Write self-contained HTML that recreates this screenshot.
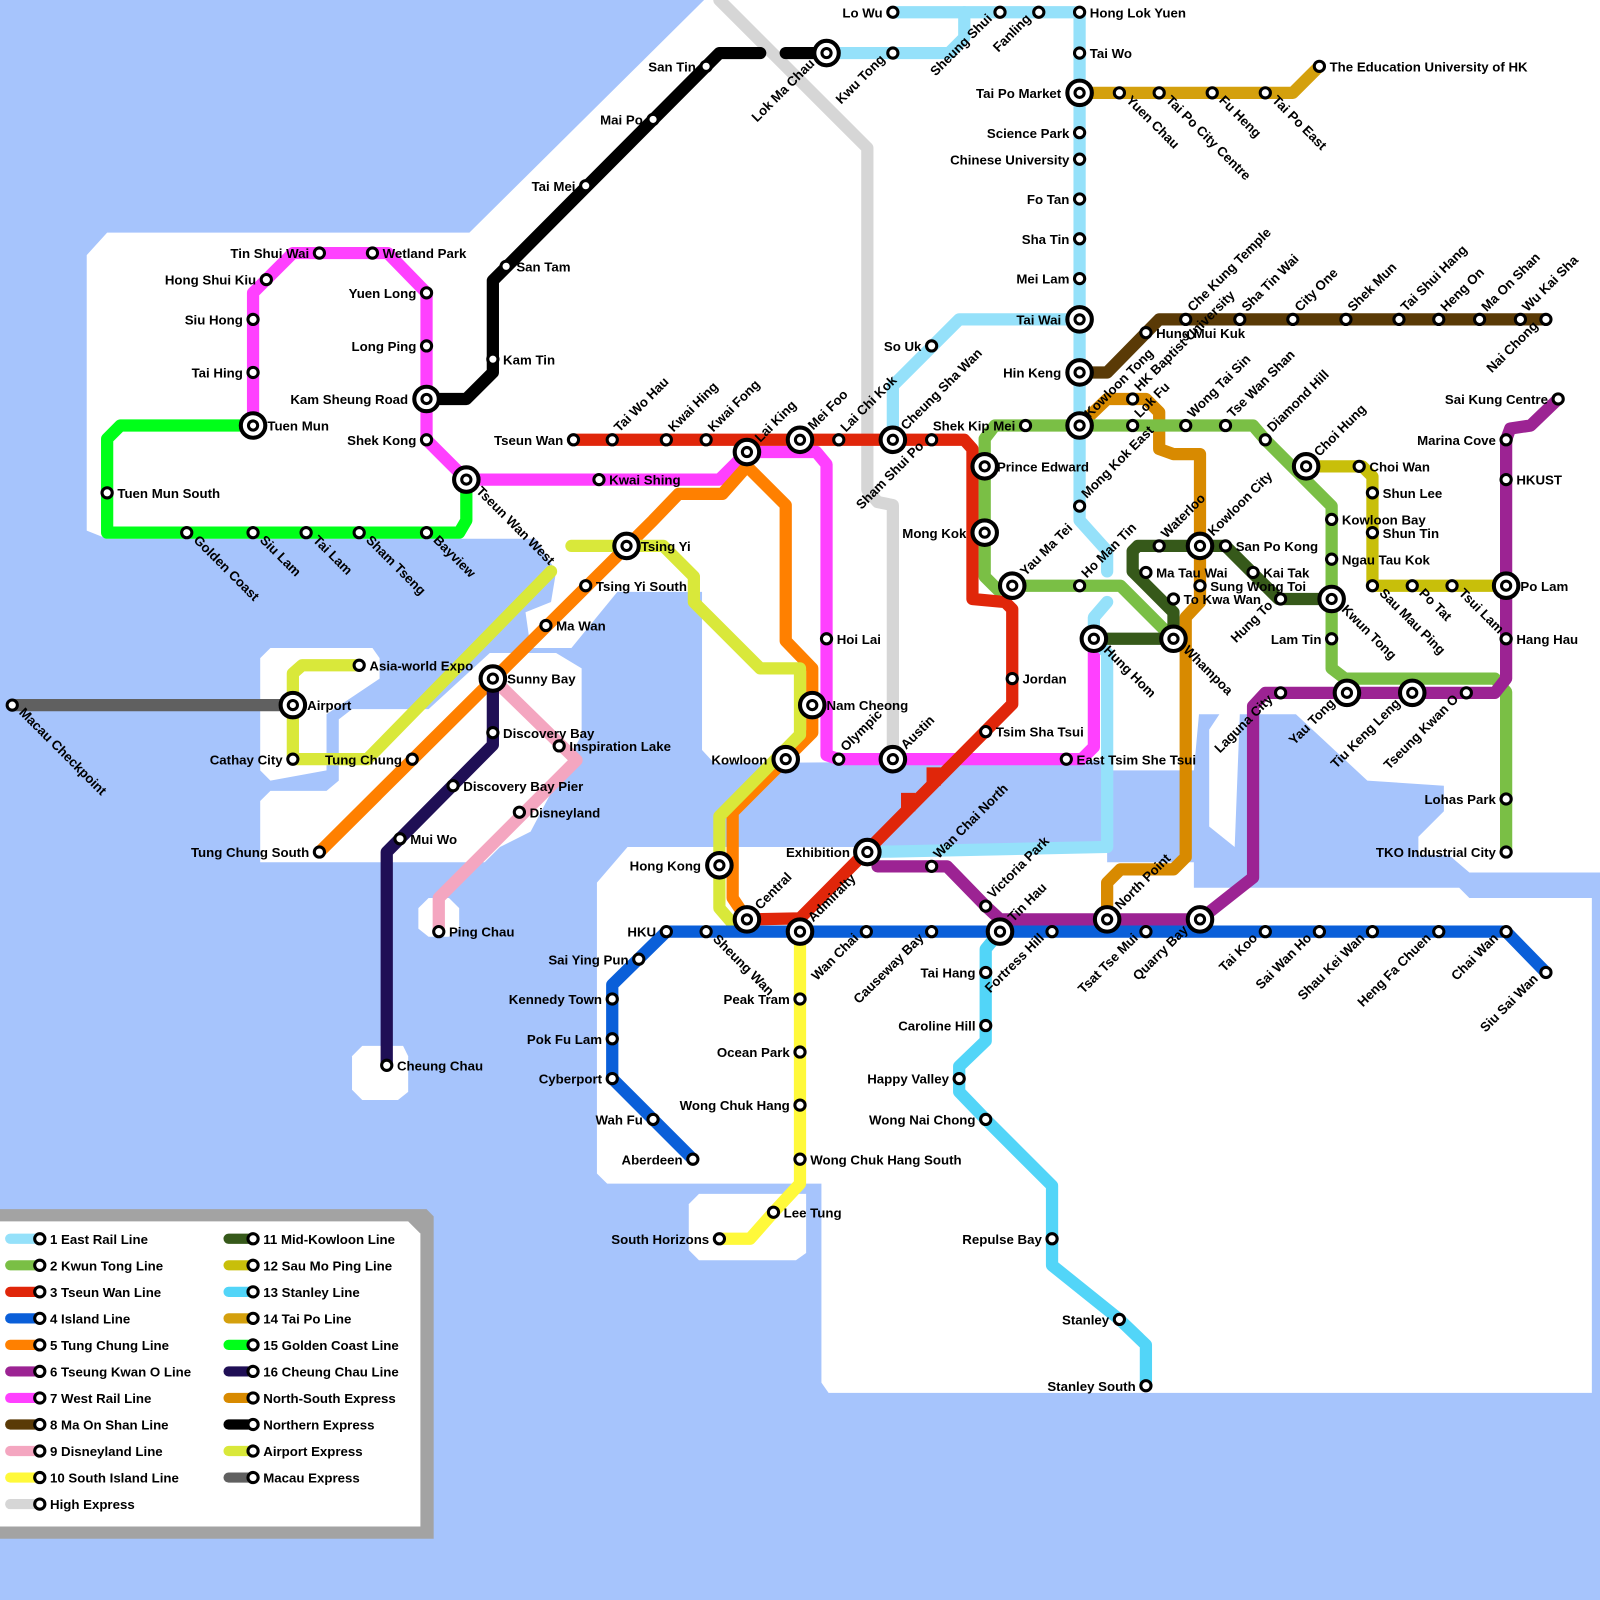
<!DOCTYPE html>
<html><head><meta charset="utf-8"><style>
html,body{margin:0;padding:0;background:#a6c4fc}
svg{display:block}
text{font-family:"Liberation Sans",Arial,sans-serif;font-weight:bold;font-size:13px;fill:#000}
.e{text-anchor:end}
.ln{fill:none;stroke-width:12;stroke-linejoin:round;stroke-linecap:round}
.s{fill:#fff;stroke:#000;stroke-width:3}
</style></head><body>
<svg width="1600" height="1600" viewBox="0 0 1568 1568" xmlns="http://www.w3.org/2000/svg">
<rect width="1600" height="1600" fill="#a6c4fc"/>
<g fill="#fff">
<polygon points="85,250 105,228 460,228 690,0 1600,0 1600,855 1440,855 1420,838 1390,838 1390,820 1415,795 1415,770 1340,765 1270,700 1215,700 1210,830 1185,810 1185,715 1195,700 1175,700 1170,755 1090,755 1090,745 700,748 688,735 688,580 640,580 545,575 545,528 105,528 85,520"/>
<polygon points="585,865 615,830 1085,830 1085,845 1170,845 1170,870 1430,870 1440,880 1560,880 1560,1365 812,1365 805,1355 805,1160 595,1160 585,1150"/>
<polygon points="675,1180 685,1170 790,1170 790,1228 780,1235 685,1235 675,1225"/>
<polygon points="255,785 265,775 320,775 332,765 332,705 345,695 420,695 480,640 545,640 570,655 570,720 520,815 490,830 475,845 255,845"/>
<polygon points="255,645 265,635 365,635 372,645 372,665 320,700 320,755 265,765 255,755"/>
<polygon points="520,520 640,520 645,580 605,580 560,635 520,635 515,600 540,590 545,560"/>
<polygon points="345,1035 355,1025 395,1025 400,1035 400,1070 390,1078 355,1078 345,1068"/>
<polygon points="410,890 420,880 440,880 450,890 450,910 440,918 420,918 410,910"/>
</g>
<polyline class="ln" stroke="#d6d6d6" points="705,0 850,145 850,480 860,492 875,495 875,744"/>
<polyline class="ln" stroke="#606060" points="12,691 287,691"/>
<polyline class="ln" stroke="#00ff19" points="248,417 118,417 105,430 105,522 450,522 457,510 457,470"/>
<polyline class="ln" stroke="#ff40ff" points="248,417 248,287 287,248 380,248 418,287 418,431 457,470 705,470 720,455 732,443 800,443 810,455 810,740 822,744 1060,744 1072,732 1072,626"/>
<polyline class="ln" stroke="#000" points="418,391 457,391 483,365 483,275 705,52 745,52"/>
<polyline class="ln" stroke="#000" points="770,52 810,52"/>
<polyline class="ln" stroke="#95e1fa" points="875,12 1058,12 1058,496 1058,510 1085,540 1085,560"/>
<polyline class="ln" stroke="#95e1fa" points="810,52 930,52 945,37 945,12"/>
<polyline class="ln" stroke="#95e1fa" points="1085,590 1072,605 1072,626 1085,640 1085,830 850,835"/>
<polyline class="ln" stroke="#95e1fa" points="1058,313 940,313 875,378 875,431"/>
<polyline class="ln" stroke="#d4a00d" points="1058,91 1267,91 1293,65"/>
<polyline class="ln" stroke="#5a3a06" points="1515,313 1136,313 1085,365 1058,365"/>
<polyline class="ln" stroke="#d88a00" points="1058,417 1085,391 1123,391 1136,404 1136,440 1150,445 1176,445 1176,590 1162,605 1162,840 1150,852 1098,852 1085,865 1085,901"/>
<polyline class="ln" stroke="#7abf45" points="1150,626 1098,574 992,574 978,578 965,565 965,430 975,417 1228,417 1240,431 1305,496 1305,655 1318,665 1465,665 1476,678 1476,835"/>
<polyline class="ln" stroke="#e0260a" points="562,431 945,431 953,440 953,587 985,590 992,597 992,690 784,900 732,901"/>
<rect x="883" y="777" width="14" height="18" fill="#e0260a"/><rect x="908" y="752" width="14" height="18" fill="#e0260a"/>
<polyline class="ln" stroke="#ff8000" points="313,835 640,510 665,484 708,484 732,457 770,495 770,628 796,655 796,718 718,796 718,880 732,901"/>
<polyline class="ln" stroke="#d9e83a" points="352,652 296,652 287,660 287,744 360,744 540,560"/>
<polyline class="ln" stroke="#d9e83a" points="560,535 650,535 680,565 680,590 745,655 784,655 784,720 705,800 705,890 718,905"/>
<polyline class="ln" stroke="#f4a6c0" points="483,665 565,745 430,880 430,913"/>
<polyline class="ln" stroke="#1f0f55" points="483,665 483,730 379,835 379,1044"/>
<polyline class="ln" stroke="#36591a" points="1072,626 1150,626 1150,600 1110,560 1110,540 1115,535 1201,535 1253,587 1305,587"/>
<polyline class="ln" stroke="#c8bf0a" points="1280,457 1335,457 1345,467 1345,574 1476,574"/>
<polyline class="ln" stroke="#9c2393" points="1527,391 1500,417 1480,420 1476,431 1476,665 1465,679 1240,679 1228,692 1228,860 1176,901 980,901 966,888 928,849 860,849"/>
<polyline class="ln" stroke="#0a5fd9" points="679,1136 600,1057 600,965 653,913 1476,913 1515,953"/>
<polyline class="ln" stroke="#fff93a" points="784,913 784,1160 758,1188 735,1214 705,1214"/>
<polyline class="ln" stroke="#52d5f8" points="980,913 966,930 966,1020 940,1045 940,1070 966,1097 1031,1162 1031,1240 1097,1293 1123,1318 1123,1358"/>

<g class="s">
<circle cx="875" cy="12" r="5"/><circle cx="980" cy="12" r="5"/><circle cx="1018" cy="12" r="5"/><circle cx="1058" cy="12" r="5"/><circle cx="875" cy="52" r="5"/><circle cx="1058" cy="52" r="5"/>
<circle cx="1058" cy="130" r="5"/><circle cx="1058" cy="156" r="5"/><circle cx="1058" cy="195" r="5"/><circle cx="1058" cy="234" r="5"/><circle cx="1058" cy="273" r="5"/><circle cx="1058" cy="496" r="5"/><circle cx="913" cy="339" r="5"/><circle cx="913" cy="431" r="5"/>
<circle cx="1005" cy="417" r="5"/><circle cx="1110" cy="417" r="5"/><circle cx="1162" cy="417" r="5"/><circle cx="1201" cy="417" r="5"/><circle cx="1240" cy="431" r="5"/><circle cx="1305" cy="509" r="5"/><circle cx="1305" cy="548" r="5"/><circle cx="1305" cy="626" r="5"/><circle cx="1476" cy="783" r="5"/><circle cx="1476" cy="835" r="5"/><circle cx="1058" cy="574" r="5"/>
<circle cx="562" cy="431" r="5"/><circle cx="600" cy="431" r="5"/><circle cx="653" cy="431" r="5"/><circle cx="692" cy="431" r="5"/><circle cx="822" cy="431" r="5"/><circle cx="992" cy="665" r="5"/><circle cx="966" cy="717" r="5"/>
<circle cx="653" cy="913" r="5"/><circle cx="692" cy="913" r="5"/><circle cx="626" cy="940" r="5"/><circle cx="600" cy="979" r="5"/><circle cx="600" cy="1018" r="5"/><circle cx="600" cy="1057" r="5"/><circle cx="640" cy="1097" r="5"/><circle cx="679" cy="1136" r="5"/><circle cx="849" cy="913" r="5"/><circle cx="913" cy="913" r="5"/><circle cx="1031" cy="913" r="5"/><circle cx="1123" cy="913" r="5"/><circle cx="1240" cy="913" r="5"/><circle cx="1293" cy="913" r="5"/><circle cx="1345" cy="913" r="5"/><circle cx="1410" cy="913" r="5"/><circle cx="1476" cy="913" r="5"/><circle cx="1515" cy="953" r="5"/>
<circle cx="313" cy="835" r="5"/><circle cx="404" cy="744" r="5"/><circle cx="535" cy="613" r="5"/><circle cx="574" cy="574" r="5"/>
<circle cx="1527" cy="391" r="5"/><circle cx="1476" cy="431" r="5"/><circle cx="1476" cy="470" r="5"/><circle cx="1476" cy="626" r="5"/><circle cx="1437" cy="679" r="5"/><circle cx="1255" cy="679" r="5"/><circle cx="966" cy="888" r="5"/><circle cx="913" cy="849" r="5"/>
<circle cx="248" cy="365" r="5"/><circle cx="248" cy="313" r="5"/><circle cx="261" cy="274" r="5"/><circle cx="313" cy="248" r="5"/><circle cx="365" cy="248" r="5"/><circle cx="418" cy="287" r="5"/><circle cx="418" cy="339" r="5"/><circle cx="418" cy="431" r="5"/><circle cx="587" cy="470" r="5"/><circle cx="810" cy="626" r="5"/><circle cx="822" cy="744" r="5"/><circle cx="1045" cy="744" r="5"/>
<circle cx="1515" cy="313" r="5"/><circle cx="1490" cy="313" r="5"/><circle cx="1450" cy="313" r="5"/><circle cx="1410" cy="313" r="5"/><circle cx="1371" cy="313" r="5"/><circle cx="1319" cy="313" r="5"/><circle cx="1267" cy="313" r="5"/><circle cx="1215" cy="313" r="5"/><circle cx="1162" cy="313" r="5"/><circle cx="1123" cy="326" r="5"/>
<circle cx="548" cy="731" r="5"/><circle cx="509" cy="796" r="5"/><circle cx="430" cy="913" r="5"/><circle cx="483" cy="718" r="5"/><circle cx="444" cy="770" r="5"/><circle cx="392" cy="822" r="5"/><circle cx="379" cy="1044" r="5"/>
<circle cx="352" cy="652" r="5"/><circle cx="287" cy="744" r="5"/>
<circle cx="784" cy="979" r="5"/><circle cx="784" cy="1031" r="5"/><circle cx="784" cy="1083" r="5"/><circle cx="784" cy="1136" r="5"/><circle cx="758" cy="1188" r="5"/><circle cx="705" cy="1214" r="5"/>
<circle cx="966" cy="953" r="5"/><circle cx="966" cy="1005" r="5"/><circle cx="940" cy="1057" r="5"/><circle cx="966" cy="1097" r="5"/><circle cx="1031" cy="1214" r="5"/><circle cx="1097" cy="1293" r="5"/><circle cx="1123" cy="1358" r="5"/>
<circle cx="1097" cy="91" r="5"/><circle cx="1136" cy="91" r="5"/><circle cx="1188" cy="91" r="5"/><circle cx="1240" cy="91" r="5"/><circle cx="1293" cy="65" r="5"/>
<circle cx="1136" cy="535" r="5"/><circle cx="1201" cy="535" r="5"/><circle cx="1123" cy="561" r="5"/><circle cx="1228" cy="561" r="5"/><circle cx="1150" cy="587" r="5"/><circle cx="1255" cy="587" r="5"/>
<circle cx="1332" cy="457" r="5"/><circle cx="1345" cy="483" r="5"/><circle cx="1345" cy="522" r="5"/><circle cx="1345" cy="574" r="5"/><circle cx="1384" cy="574" r="5"/><circle cx="1423" cy="574" r="5"/>
<circle cx="105" cy="483" r="5"/><circle cx="183" cy="522" r="5"/><circle cx="248" cy="522" r="5"/><circle cx="300" cy="522" r="5"/><circle cx="352" cy="522" r="5"/><circle cx="418" cy="522" r="5"/>
<circle cx="1110" cy="391" r="5"/><circle cx="1176" cy="574" r="5"/>
<circle cx="496" cy="261" r="5"/><circle cx="483" cy="352" r="5"/><circle cx="574" cy="182" r="5"/><circle cx="640" cy="117" r="5"/><circle cx="692" cy="65" r="5"/>
<circle cx="12" cy="691" r="5"/>
</g>
<g fill="#fff" stroke="#000">
<g stroke-width="4">
<circle cx="810" cy="52" r="12"/><circle cx="1058" cy="91" r="12"/><circle cx="1058" cy="313" r="12"/><circle cx="1058" cy="365" r="12"/><circle cx="1058" cy="417" r="12"/><circle cx="875" cy="431" r="12"/><circle cx="1072" cy="626" r="12"/><circle cx="850" cy="835" r="12"/>
<circle cx="1280" cy="457" r="12"/><circle cx="1305" cy="587" r="12"/><circle cx="1320" cy="679" r="12"/><circle cx="1384" cy="679" r="12"/><circle cx="965" cy="457" r="12"/><circle cx="965" cy="522" r="12"/><circle cx="992" cy="574" r="12"/><circle cx="1150" cy="626" r="12"/>
<circle cx="732" cy="443" r="12"/><circle cx="784" cy="431" r="12"/><circle cx="784" cy="913" r="12"/><circle cx="732" cy="901" r="12"/>
<circle cx="483" cy="665" r="12"/><circle cx="614" cy="535" r="12"/><circle cx="796" cy="691" r="12"/><circle cx="770" cy="744" r="12"/><circle cx="705" cy="848" r="12"/>
<circle cx="1476" cy="574" r="12"/><circle cx="1176" cy="901" r="12"/><circle cx="1085" cy="901" r="12"/><circle cx="980" cy="913" r="12"/>
<circle cx="248" cy="417" r="12"/><circle cx="418" cy="391" r="12"/><circle cx="457" cy="470" r="12"/><circle cx="875" cy="744" r="12"/>
<circle cx="1176" cy="535" r="12"/><circle cx="287" cy="691" r="12"/>
</g>
<g stroke-width="3">
<circle cx="810" cy="52" r="4.5"/><circle cx="1058" cy="91" r="4.5"/><circle cx="1058" cy="313" r="4.5"/><circle cx="1058" cy="365" r="4.5"/><circle cx="1058" cy="417" r="4.5"/><circle cx="875" cy="431" r="4.5"/><circle cx="1072" cy="626" r="4.5"/><circle cx="850" cy="835" r="4.5"/>
<circle cx="1280" cy="457" r="4.5"/><circle cx="1305" cy="587" r="4.5"/><circle cx="1320" cy="679" r="4.5"/><circle cx="1384" cy="679" r="4.5"/><circle cx="965" cy="457" r="4.5"/><circle cx="965" cy="522" r="4.5"/><circle cx="992" cy="574" r="4.5"/><circle cx="1150" cy="626" r="4.5"/>
<circle cx="732" cy="443" r="4.5"/><circle cx="784" cy="431" r="4.5"/><circle cx="784" cy="913" r="4.5"/><circle cx="732" cy="901" r="4.5"/>
<circle cx="483" cy="665" r="4.5"/><circle cx="614" cy="535" r="4.5"/><circle cx="796" cy="691" r="4.5"/><circle cx="770" cy="744" r="4.5"/><circle cx="705" cy="848" r="4.5"/>
<circle cx="1476" cy="574" r="4.5"/><circle cx="1176" cy="901" r="4.5"/><circle cx="1085" cy="901" r="4.5"/><circle cx="980" cy="913" r="4.5"/>
<circle cx="248" cy="417" r="4.5"/><circle cx="418" cy="391" r="4.5"/><circle cx="457" cy="470" r="4.5"/><circle cx="875" cy="744" r="4.5"/>
<circle cx="1176" cy="535" r="4.5"/><circle cx="287" cy="691" r="4.5"/>
</g>
</g>

<g>
<text x="1068" y="17">Hong Lok Yuen</text><text x="1068" y="57">Tai Wo</text>
<text x="1303" y="70">The Education University of HK</text>
<text x="977" y="462">Prince Edward</text>
<text x="1002" y="670">Jordan</text><text x="976" y="722">Tsim Sha Tsui</text>
<text x="497" y="670">Sunny Bay</text><text x="545" y="618">Ma Wan</text><text x="584" y="579">Tsing Yi South</text><text x="628" y="540">Tsing Yi</text>
<text x="810" y="696">Nam Cheong</text>
<text x="1486" y="475">HKUST</text><text x="1490" y="579">Po Lam</text><text x="1486" y="631">Hang Hau</text>
<text x="262" y="422">Tuen Mun</text><text x="375" y="253">Wetland Park</text><text x="597" y="475">Kwai Shing</text><text x="820" y="631">Hoi Lai</text><text x="1055" y="749">East Tsim She Tsui</text>
<text x="1133" y="331">Hung Mui Kuk</text>
<text x="558" y="736">Inspiration Lake</text><text x="519" y="801">Disneyland</text><text x="440" y="918">Ping Chau</text>
<text x="493" y="723">Discovery Bay</text><text x="454" y="775">Discovery Bay Pier</text><text x="402" y="827">Mui Wo</text><text x="389" y="1049">Cheung Chau</text>
<text x="362" y="657">Asia-world Expo</text><text x="301" y="696">Airport</text>
<text x="794" y="1141">Wong Chuk Hang South</text><text x="768" y="1193">Lee Tung</text>
<text x="1211" y="540">San Po Kong</text><text x="1133" y="566">Ma Tau Wai</text><text x="1238" y="566">Kai Tak</text><text x="1160" y="592">To Kwa Wan</text>
<text x="1342" y="462">Choi Wan</text><text x="1355" y="488">Shun Lee</text><text x="1355" y="527">Shun Tin</text>
<text x="1315" y="514">Kowloon Bay</text><text x="1315" y="553">Ngau Tau Kok</text>
<text x="115" y="488">Tuen Mun South</text><text x="1186" y="579">Sung Wong Toi</text>
<text x="506" y="266">San Tam</text><text x="493" y="357">Kam Tin</text>
</g>
<g class="e">
<text x="865" y="17">Lo Wu</text><text x="1040" y="96">Tai Po Market</text>
<text x="1048" y="135">Science Park</text><text x="1048" y="161">Chinese University</text><text x="1048" y="200">Fo Tan</text><text x="1048" y="239">Sha Tin</text><text x="1048" y="278">Mei Lam</text><text x="1040" y="318">Tai Wai</text><text x="1040" y="370">Hin Keng</text>
<text x="903" y="344">So Uk</text><text x="995" y="422">Shek Kip Mei</text>
<text x="833" y="840">Exhibition</text><text x="947" y="527">Mong Kok</text>
<text x="1295" y="631">Lam Tin</text><text x="1466" y="788">Lohas Park</text><text x="1466" y="840">TKO Industrial City</text>
<text x="552" y="436">Tseun Wan</text>
<text x="643" y="918">HKU</text><text x="616" y="945">Sai Ying Pun</text><text x="590" y="984">Kennedy Town</text><text x="590" y="1023">Pok Fu Lam</text><text x="590" y="1062">Cyberport</text><text x="630" y="1102">Wah Fu</text><text x="669" y="1141">Aberdeen</text>
<text x="303" y="840">Tung Chung South</text><text x="394" y="749">Tung Chung</text><text x="752" y="749">Kowloon</text><text x="687" y="853">Hong Kong</text>
<text x="1517" y="396">Sai Kung Centre</text><text x="1466" y="436">Marina Cove</text>
<text x="238" y="370">Tai Hing</text><text x="238" y="318">Siu Hong</text><text x="251" y="279">Hong Shui Kiu</text><text x="303" y="253">Tin Shui Wai</text><text x="408" y="292">Yuen Long</text><text x="408" y="344">Long Ping</text><text x="400" y="396">Kam Sheung Road</text><text x="408" y="436">Shek Kong</text>
<text x="277" y="749">Cathay City</text>
<text x="774" y="984">Peak Tram</text><text x="774" y="1036">Ocean Park</text><text x="774" y="1088">Wong Chuk Hang</text><text x="695" y="1219">South Horizons</text>
<text x="956" y="958">Tai Hang</text><text x="956" y="1010">Caroline Hill</text><text x="930" y="1062">Happy Valley</text><text x="956" y="1102">Wong Nai Chong</text><text x="1021" y="1219">Repulse Bay</text><text x="1087" y="1298">Stanley</text><text x="1113" y="1363">Stanley South</text>
<text x="564" y="187">Tai Mei</text><text x="630" y="122">Mai Po</text><text x="682" y="70">San Tin</text>
</g>
<g>
<text transform="translate(1068,410) rotate(-45)">Kowloon Tong</text>
<text transform="translate(1065,489) rotate(-45)">Mong Kok East</text>
<text transform="translate(888,422) rotate(-45)">Cheung Sha Wan</text>
<text transform="translate(920,842) rotate(-45)">Wan Chai North</text>
<text transform="translate(1117,410) rotate(-45)">Lok Fu</text>
<text transform="translate(1169,410) rotate(-45)">Wong Tai Sin</text>
<text transform="translate(1208,410) rotate(-45)">Tse Wan Shan</text>
<text transform="translate(1247,424) rotate(-45)">Diamond Hill</text>
<text transform="translate(1293,448) rotate(-45)">Choi Hung</text>
<text transform="translate(1005,565) rotate(-45)">Yau Ma Tei</text>
<text transform="translate(1065,567) rotate(-45)">Ho Man Tin</text>
<text transform="translate(607,424) rotate(-45)">Tai Wo Hau</text>
<text transform="translate(660,424) rotate(-45)">Kwai Hing</text>
<text transform="translate(699,424) rotate(-45)">Kwai Fong</text>
<text transform="translate(745,434) rotate(-45)">Lai King</text>
<text transform="translate(797,422) rotate(-45)">Mei Foo</text>
<text transform="translate(829,424) rotate(-45)">Lai Chi Kok</text>
<text transform="translate(797,904) rotate(-45)">Admiralty</text>
<text transform="translate(745,892) rotate(-45)">Central</text>
<text transform="translate(993,904) rotate(-45)">Tin Hau</text>
<text transform="translate(1098,892) rotate(-45)">North Point</text>
<text transform="translate(973,881) rotate(-45)">Victoria Park</text>
<text transform="translate(829,737) rotate(-45)">Olympic</text>
<text transform="translate(888,735) rotate(-45)">Austin</text>
<text transform="translate(1497,306) rotate(-45)">Wu Kai Sha</text>
<text transform="translate(1457,306) rotate(-45)">Ma On Shan</text>
<text transform="translate(1417,306) rotate(-45)">Heng On</text>
<text transform="translate(1378,306) rotate(-45)">Tai Shui Hang</text>
<text transform="translate(1326,306) rotate(-45)">Shek Mun</text>
<text transform="translate(1274,306) rotate(-45)">City One</text>
<text transform="translate(1222,306) rotate(-45)">Sha Tin Wai</text>
<text transform="translate(1169,306) rotate(-45)">Che Kung Temple</text>
<text transform="translate(1117,384) rotate(-45)">HK Baptist University</text>
<text transform="translate(1143,528) rotate(-45)">Waterloo</text>
<text transform="translate(1189,526) rotate(-45)">Kowloon City</text>
</g>
<g>
<text transform="translate(1081,638) rotate(45)">Hung Hom</text>
<text transform="translate(1314,598) rotate(45)">Kwun Tong</text>
<text transform="translate(1159,638) rotate(45)">Whampoa</text>
<text transform="translate(698,921) rotate(45)">Sheung Wan</text>
<text transform="translate(466,482) rotate(45)">Tseun Wan West</text>
<text transform="translate(1103,99) rotate(45)">Yuen Chau</text>
<text transform="translate(1142,99) rotate(45)">Tai Po City Centre</text>
<text transform="translate(1194,99) rotate(45)">Fu Heng</text>
<text transform="translate(1246,99) rotate(45)">Tai Po East</text>
<text transform="translate(1351,582) rotate(45)">Sau Mau Ping</text>
<text transform="translate(1390,582) rotate(45)">Po Tat</text>
<text transform="translate(1429,582) rotate(45)">Tsui Lam</text>
<text transform="translate(189,530) rotate(45)">Golden Coast</text>
<text transform="translate(254,530) rotate(45)">Siu Lam</text>
<text transform="translate(306,530) rotate(45)">Tai Lam</text>
<text transform="translate(358,530) rotate(45)">Sham Tseng</text>
<text transform="translate(424,530) rotate(45)">Bayview</text>
<text transform="translate(18,699) rotate(45)">Macau Checkpoint</text>
</g>
<g class="e">
<text transform="translate(973,19) rotate(-45)">Sheung Shui</text>
<text transform="translate(1011,19) rotate(-45)">Fanling</text>
<text transform="translate(868,59) rotate(-45)">Kwu Tong</text>
<text transform="translate(799,63) rotate(-45)">Lok Ma Chau</text>
<text transform="translate(906,438) rotate(-45)">Sham Shui Po</text>
<text transform="translate(1309,690) rotate(-45)">Yau Tong</text>
<text transform="translate(1373,690) rotate(-45)">Tiu Keng Leng</text>
<text transform="translate(842,920) rotate(-45)">Wan Chai</text>
<text transform="translate(906,920) rotate(-45)">Causeway Bay</text>
<text transform="translate(1024,920) rotate(-45)">Fortress Hill</text>
<text transform="translate(1116,920) rotate(-45)">Tsat Tse Mui</text>
<text transform="translate(1233,920) rotate(-45)">Tai Koo</text>
<text transform="translate(1286,920) rotate(-45)">Sai Wan Ho</text>
<text transform="translate(1338,920) rotate(-45)">Shau Kei Wan</text>
<text transform="translate(1403,920) rotate(-45)">Heng Fa Chuen</text>
<text transform="translate(1469,920) rotate(-45)">Chai Wan</text>
<text transform="translate(1508,960) rotate(-45)">Siu Sai Wan</text>
<text transform="translate(1430,686) rotate(-45)">Tseung Kwan O</text>
<text transform="translate(1248,686) rotate(-45)">Laguna City</text>
<text transform="translate(1165,912) rotate(-45)">Quarry Bay</text>
<text transform="translate(1508,320) rotate(-45)">Nai Chong</text>
<text transform="translate(1248,594) rotate(-45)">Hung To</text>
</g>

<polygon points="-10,1185 418,1185 425,1192 425,1508 -10,1508" fill="#a3a3a3"/>
<polygon points="-10,1197 400,1197 412,1209 412,1496 -10,1496" fill="#fff"/>
<g stroke-width="10" stroke-linecap="round">
<line x1="10" y1="1214" x2="36" y2="1214" stroke="#95e1fa"/>
<line x1="10" y1="1240" x2="36" y2="1240" stroke="#7abf45"/>
<line x1="10" y1="1266" x2="36" y2="1266" stroke="#e0260a"/>
<line x1="10" y1="1292" x2="36" y2="1292" stroke="#0a5fd9"/>
<line x1="10" y1="1318" x2="36" y2="1318" stroke="#ff8000"/>
<line x1="10" y1="1344" x2="36" y2="1344" stroke="#9c2393"/>
<line x1="10" y1="1370" x2="36" y2="1370" stroke="#ff40ff"/>
<line x1="10" y1="1396" x2="36" y2="1396" stroke="#5a3a06"/>
<line x1="10" y1="1422" x2="36" y2="1422" stroke="#f4a6c0"/>
<line x1="10" y1="1448" x2="36" y2="1448" stroke="#fff93a"/>
<line x1="10" y1="1474" x2="36" y2="1474" stroke="#d6d6d6"/>
<line x1="224" y1="1214" x2="246" y2="1214" stroke="#36591a"/>
<line x1="224" y1="1240" x2="246" y2="1240" stroke="#c8bf0a"/>
<line x1="224" y1="1266" x2="246" y2="1266" stroke="#52d5f8"/>
<line x1="224" y1="1292" x2="246" y2="1292" stroke="#d4a00d"/>
<line x1="224" y1="1318" x2="246" y2="1318" stroke="#00ff19"/>
<line x1="224" y1="1344" x2="246" y2="1344" stroke="#1f0f55"/>
<line x1="224" y1="1370" x2="246" y2="1370" stroke="#d88a00"/>
<line x1="224" y1="1396" x2="246" y2="1396" stroke="#000"/>
<line x1="224" y1="1422" x2="246" y2="1422" stroke="#d9e83a"/>
<line x1="224" y1="1448" x2="246" y2="1448" stroke="#606060"/>
</g>
<g class="s">
<circle cx="39" cy="1214" r="5"/><circle cx="39" cy="1240" r="5"/><circle cx="39" cy="1266" r="5"/><circle cx="39" cy="1292" r="5"/><circle cx="39" cy="1318" r="5"/><circle cx="39" cy="1344" r="5"/><circle cx="39" cy="1370" r="5"/><circle cx="39" cy="1396" r="5"/><circle cx="39" cy="1422" r="5"/><circle cx="39" cy="1448" r="5"/><circle cx="39" cy="1474" r="5"/>
<circle cx="248" cy="1214" r="5"/><circle cx="248" cy="1240" r="5"/><circle cx="248" cy="1266" r="5"/><circle cx="248" cy="1292" r="5"/><circle cx="248" cy="1318" r="5"/><circle cx="248" cy="1344" r="5"/><circle cx="248" cy="1370" r="5"/><circle cx="248" cy="1396" r="5"/><circle cx="248" cy="1422" r="5"/><circle cx="248" cy="1448" r="5"/>
</g>
<g>
<text x="49" y="1219">1 East Rail Line</text><text x="49" y="1245">2 Kwun Tong Line</text><text x="49" y="1271">3 Tseun Wan Line</text><text x="49" y="1297">4 Island Line</text><text x="49" y="1323">5 Tung Chung Line</text><text x="49" y="1349">6 Tseung Kwan O Line</text><text x="49" y="1375">7 West Rail Line</text><text x="49" y="1401">8 Ma On Shan Line</text><text x="49" y="1427">9 Disneyland Line</text><text x="49" y="1453">10 South Island Line</text><text x="49" y="1479">High Express</text>
<text x="258" y="1219">11 Mid-Kowloon Line</text><text x="258" y="1245">12 Sau Mo Ping Line</text><text x="258" y="1271">13 Stanley Line</text><text x="258" y="1297">14 Tai Po Line</text><text x="258" y="1323">15 Golden Coast Line</text><text x="258" y="1349">16 Cheung Chau Line</text><text x="258" y="1375">North-South Express</text><text x="258" y="1401">Northern Express</text><text x="258" y="1427">Airport Express</text><text x="258" y="1453">Macau Express</text>
</g>
</svg>
</body></html>
